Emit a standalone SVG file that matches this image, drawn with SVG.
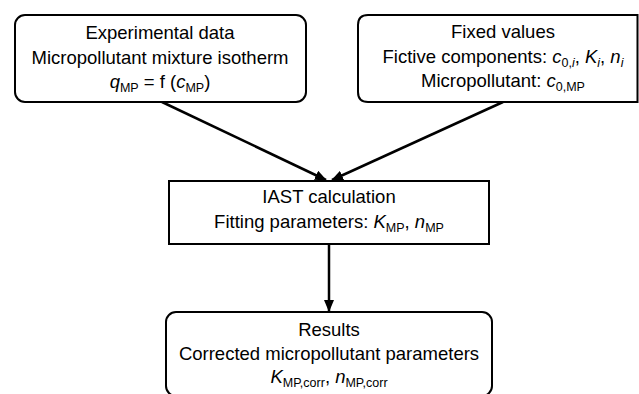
<svg xmlns="http://www.w3.org/2000/svg" width="639" height="394" viewBox="0 0 639 394">
<defs>
<style>
.box{fill:#fff;stroke:#000;stroke-width:2}
.t{font-family:"Liberation Sans",Arial,sans-serif;font-size:18.5px;fill:#000;text-anchor:middle}
.i{font-style:italic}
.s{font-size:12.5px}
.c{stroke:#000;stroke-width:2.5;fill:none}
</style>
<marker id="ah" markerUnits="userSpaceOnUse" markerWidth="12" markerHeight="10" viewBox="0 0 12 10" refX="11" refY="5" orient="auto">
<path d="M0,0 L12,5 L0,10 Z" fill="#000"/>
</marker>
</defs>
<rect width="639" height="394" fill="#fff"/>
<g id="connectors">
<line class="c" x1="162" y1="102" x2="326" y2="180" marker-end="url(#ah)"/>
<line class="c" x1="503" y1="102" x2="332" y2="180" marker-end="url(#ah)"/>
<line class="c" x1="329" y1="244" x2="329" y2="311" stroke-width="3" marker-end="url(#ah)"/>
</g>
<g id="experimental">
<rect class="box" x="15" y="15" width="291" height="87" rx="10"/>
<text class="t" x="160" y="39">Experimental data</text>
<text class="t" x="160" y="64">Micropollutant mixture isotherm</text>
<text class="t" x="160" y="88"><tspan class="i">q</tspan><tspan class="s" dy="4">MP</tspan><tspan dy="-4"> = f (</tspan><tspan class="i">c</tspan><tspan class="s" dy="4">MP</tspan><tspan dy="-4">)</tspan></text>
</g>
<g id="fixed">
<path class="box" d="M637.5,15 L368,15 Q358,15 358,25 L358,92 Q358,102 368,102 L637.5,102 Z"/>
<text class="t" x="503" y="38">Fixed values</text>
<text class="t" x="503" y="63">Fictive components: <tspan class="i">c</tspan><tspan class="s" dy="4">0,<tspan class="i">i</tspan></tspan><tspan dy="-4">, </tspan><tspan class="i">K</tspan><tspan class="s i" dy="4">i</tspan><tspan dy="-4">, </tspan><tspan class="i">n</tspan><tspan class="s i" dy="4">i</tspan></text>
<text class="t" x="503" y="87">Micropollutant: <tspan class="i">c</tspan><tspan class="s" dy="4">0,MP</tspan></text>
</g>
<g id="iast">
<rect class="box" x="169" y="181" width="320" height="63"/>
<text class="t" x="329" y="203">IAST calculation</text>
<text class="t" x="329" y="228">Fitting parameters: <tspan class="i">K</tspan><tspan class="s" dy="4">MP</tspan><tspan dy="-4">, </tspan><tspan class="i">n</tspan><tspan class="s" dy="4">MP</tspan></text>
</g>
<g id="results">
<rect class="box" x="166" y="312" width="326" height="84" rx="10"/>
<text class="t" x="329" y="336">Results</text>
<text class="t" x="329" y="360">Corrected micropollutant parameters</text>
<text class="t" x="329" y="383"><tspan class="i">K</tspan><tspan class="s" dy="4">MP,corr</tspan><tspan dy="-4">, </tspan><tspan class="i">n</tspan><tspan class="s" dy="4">MP,corr</tspan></text>
</g>
</svg>
